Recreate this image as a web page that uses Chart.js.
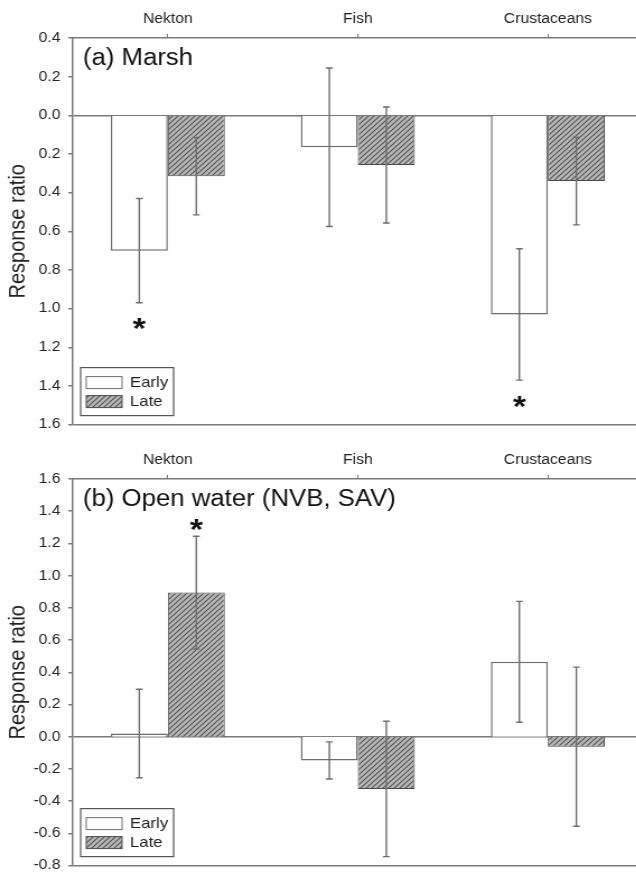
<!DOCTYPE html>
<html>
<head>
<meta charset="utf-8">
<title>Response ratio</title>
<script src="https://cdn.jsdelivr.net/npm/chart.js@4"></script>
<style>
  body { margin: 0; background: #fff; overflow: hidden; }
  .panel { width: 636px; height: 440px; overflow: hidden; }
  .panel.low { height: 441px; }
  /* the original figure is slightly stretched sideways */
  canvas { display: block; transform: scaleX(1.12); transform-origin: 0 0; }
</style>
</head>
<body>
<div class="panel"><canvas id="marshChart" width="590" height="440"></canvas></div>
<div class="panel low"><canvas id="openChart" width="590" height="441"></canvas></div>
<script>
// Categories and series
const groups = ['Nekton', 'Fish', 'Crustaceans'];
const seriesNames = ['Early', 'Late'];

// (a) Marsh - mean response ratio and error half-width
const marshEarly = [-0.70, -0.165, -1.03];
const marshEarlyErr = [0.27, 0.41, 0.34];
const marshLate = [-0.315, -0.257, -0.34];
const marshLateErr = [0.20, 0.30, 0.227];
const marshEarlySig = [true, false, true];
const marshLateSig = [false, false, false];
const marshRange = [-1.6, 0.4];

// (b) Open water (NVB, SAV)
const openEarly = [0.02, -0.147, 0.465];
const openEarlyErr = [0.275, 0.115, 0.375];
const openLate = [0.895, -0.324, -0.062];
const openLateErr = [0.35, 0.42, 0.494];
const openEarlySig = [false, false, false];
const openLateSig = [true, false, false];
const openRange = [-0.8, 1.6];

const tickStep = 0.2;

const AXIS_GRAY = '#7a7a7a';
const TEXT = '#222';
Chart.defaults.font.family = '"Liberation Sans", Arial, sans-serif';

// Diagonal hatch used for the "Late" bars
function hatchPattern() {
    const c = document.createElement('canvas');
    c.width = 5;
    c.height = 5;
    const g = c.getContext('2d');
    g.fillStyle = '#b8b8b8';
    g.fillRect(0, 0, 5, 5);
    g.strokeStyle = '#555';
    g.lineWidth = 1.2;
    g.beginPath();
    g.moveTo(-1, 6); g.lineTo(6, -1);
    g.moveTo(-1, 1); g.lineTo(1, -1);
    g.moveTo(4, 6); g.lineTo(6, 4);
    g.stroke();
    return g.createPattern(c, 'repeat');
}

// Error bars + significance stars
const errorBars = {
    id: 'errorBars',
    afterDatasetsDraw(chart) {
        const ctx = chart.ctx;
        const y = chart.scales.y;
        chart.data.datasets.forEach((ds, i) => {
            chart.getDatasetMeta(i).data.forEach((bar, j) => {
                const v = ds.data[j];
                const top = y.getPixelForValue(v + ds.errors[j]);
                const bot = y.getPixelForValue(v - ds.errors[j]);
                ctx.save();
                ctx.strokeStyle = '#6e6e6e';
                ctx.lineWidth = 1.4;
                ctx.beginPath();
                ctx.moveTo(bar.x, top); ctx.lineTo(bar.x, bot);
                ctx.moveTo(bar.x - 3, top); ctx.lineTo(bar.x + 3, top);
                ctx.moveTo(bar.x - 3, bot); ctx.lineTo(bar.x + 3, bot);
                ctx.stroke();
                if (ds.sig[j]) {
                    const size = 30;
                    const cy = v < 0 ? bot + 18 : top - 15;
                    ctx.fillStyle = '#111';
                    ctx.font = 'bold ' + size + 'px "Liberation Sans", Arial';
                    ctx.textAlign = 'center';
                    ctx.textBaseline = 'alphabetic';
                    ctx.fillText('*', bar.x, cy + 0.58 * size);
                }
                ctx.restore();
            });
        });
    }
};

// Boxed legend in the lower-left corner of the plot
const boxLegend = {
    id: 'boxLegend',
    afterDraw(chart) {
        const { ctx, chartArea } = chart;
        const x0 = chartArea.left + 7;
        const y0 = chartArea.bottom - 57;
        ctx.save();
        ctx.strokeStyle = '#555';
        ctx.lineWidth = 1.2;
        ctx.strokeRect(x0, y0, 83, 48);
        chart.data.datasets.forEach((ds, i) => {
            const sy = y0 + 9 + i * 19;
            ctx.fillStyle = ds.backgroundColor;
            ctx.fillRect(x0 + 5, sy, 32, 12);
            ctx.strokeStyle = ds.borderColor;
            ctx.lineWidth = 1;
            ctx.strokeRect(x0 + 5, sy, 32, 12);
            ctx.fillStyle = TEXT;
            ctx.font = '15px "Liberation Sans", Arial';
            ctx.textBaseline = 'middle';
            ctx.fillText(ds.label, x0 + 44, sy + 6.5);
        });
        ctx.restore();
    }
};

// Panel caption inside the top-left of the plot
const panelLabel = {
    id: 'panelLabel',
    afterDraw(chart, args, opts) {
        const { ctx, chartArea } = chart;
        ctx.save();
        ctx.fillStyle = '#111';
        ctx.font = '23px "Liberation Sans", Arial';
        ctx.textBaseline = 'alphabetic';
        ctx.fillText(opts.text, chartArea.left + 9, chartArea.top + 27);
        ctx.restore();
    }
};

function makePanel(canvasId, caption, early, earlyErr, earlySig, late, lateErr, lateSig, range, absTicks, topHeight, padBottom) {
    const ctx = document.getElementById(canvasId).getContext('2d');
    return new Chart(ctx, {
        type: 'bar',
        data: {
            labels: groups,
            datasets: [
                {
                    label: seriesNames[0],
                    data: early,
                    errors: earlyErr,
                    sig: earlySig,
                    backgroundColor: '#ffffff',
                    borderColor: '#6e6e6e',
                    borderWidth: 1.5
                },
                {
                    label: seriesNames[1],
                    data: late,
                    errors: lateErr,
                    sig: lateSig,
                    backgroundColor: hatchPattern(),
                    borderColor: '#4a4a4a',
                    borderWidth: 1
                }
            ]
        },
        options: {
            responsive: false,
            animation: false,
            events: [],
            layout: { padding: { top: 0, right: 16, bottom: padBottom, left: 0 } },
            datasets: { bar: { categoryPercentage: 0.6, barPercentage: 1.0 } },
            plugins: {
                legend: { display: false },
                tooltip: { enabled: false },
                panelLabel: { text: caption }
            },
            scales: {
                x: {
                    position: 'top',
                    grid: { offset: false, drawOnChartArea: false, color: AXIS_GRAY, tickLength: 4 },
                    border: { color: AXIS_GRAY, width: 1.5 },
                    ticks: { color: TEXT, font: { size: 14 }, padding: 6, maxRotation: 0 },
                    afterFit: s => { s.height = topHeight; }
                },
                y: {
                    min: range[0],
                    max: range[1],
                    ticks: {
                        stepSize: tickStep,
                        color: TEXT,
                        font: { size: 14 },
                        padding: 7,
                        callback: v => {
                            if (Math.abs(v) < 1e-9) return '0.0';
                            return absTicks ? Math.abs(v).toFixed(1) : v.toFixed(1);
                        }
                    },
                    grid: {
                        color: c => {
                            const v = c.tick.value;
                            if (Math.abs(v) < 1e-9 || Math.abs(v - range[0]) < 1e-9) return AXIS_GRAY;
                            return 'rgba(0,0,0,0)';
                        },
                        tickColor: AXIS_GRAY,
                        tickLength: 4,
                        lineWidth: 1.5
                    },
                    border: { color: AXIS_GRAY, width: 1.5 },
                    title: {
                        display: true,
                        text: 'Response ratio',
                        color: TEXT,
                        font: { size: 20 },
                        padding: { top: 4, bottom: 0 }
                    },
                    afterFit: s => { s.width = 65; }
                }
            }
        },
        plugins: [errorBars, boxLegend, panelLabel]
    });
}

makePanel('marshChart', '(a) Marsh', marshEarly, marshEarlyErr, marshEarlySig,
    marshLate, marshLateErr, marshLateSig, marshRange, true, 38, 7);
makePanel('openChart', '(b) Open water (NVB, SAV)', openEarly, openEarlyErr, openEarlySig,
    openLate, openLateErr, openLateSig, openRange, false, 39, 8);
</script>
</body>
</html>
